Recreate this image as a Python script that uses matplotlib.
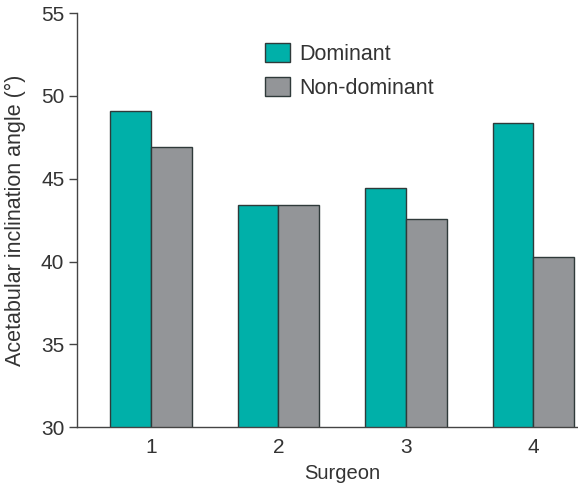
import numpy as np
import matplotlib.pyplot as plt
from matplotlib.patches import Patch

# Values
surgeons = ['1', '2', '3', '4']
dominant = [49.1, 43.4, 44.45, 48.35]
non_dominant = [46.9, 43.4, 42.6, 40.3]

teal = '#00B0A9'
grey = '#939598'
edge = '#2f3a3a'
text_col = '#333333'

plt.rcParams['font.family'] = ['Liberation Sans', 'DejaVu Sans']

fig = plt.figure(figsize=(5.78, 4.86), dpi=100)
ax = fig.add_axes([0.133, 0.121, 0.867, 0.852])

x = np.arange(1, len(surgeons) + 1)
w = 0.32
ax.bar(x - w / 2, dominant, w, color=teal, edgecolor=edge, linewidth=1.0)
ax.bar(x + w / 2, non_dominant, w, color=grey, edgecolor=edge, linewidth=1.0)

ax.set_ylim(30, 55)
ax.set_xlim(0.42, 4.35)
ax.set_yticks(range(30, 56, 5))
ax.set_xticks(x)
ax.set_xticklabels(surgeons)

for s in ['top', 'right']:
    ax.spines[s].set_visible(False)
for s in ['left', 'bottom']:
    ax.spines[s].set_color('#444444')
    ax.spines[s].set_linewidth(1.0)

ax.tick_params(axis='y', length=6, width=1, color='#444444', labelsize=15,
               labelcolor=text_col, pad=3)
ax.tick_params(axis='x', length=0, labelsize=15, labelcolor=text_col, pad=8)

ax.set_ylabel('Acetabular inclination angle (°)', fontsize=15.5, color=text_col,
              va='center')
ax.yaxis.set_label_coords(-0.122, 0.5)
ax.set_xlabel('Surgeon', fontsize=14.5, color=text_col)
ax.xaxis.set_label_coords(0.53, -0.09)

handles = [Patch(facecolor=teal, edgecolor=edge, label='Dominant'),
           Patch(facecolor=grey, edgecolor=edge, label='Non-dominant')]
ax.legend(handles=handles, loc='upper left', bbox_to_anchor=(0.345, 0.965),
          frameon=False, fontsize=15.5, handlelength=1.15, handleheight=1.0,
          handletextpad=0.45, labelspacing=0.55, labelcolor=text_col,
          borderaxespad=0.3)

fig.savefig('out.png', dpi=100)
